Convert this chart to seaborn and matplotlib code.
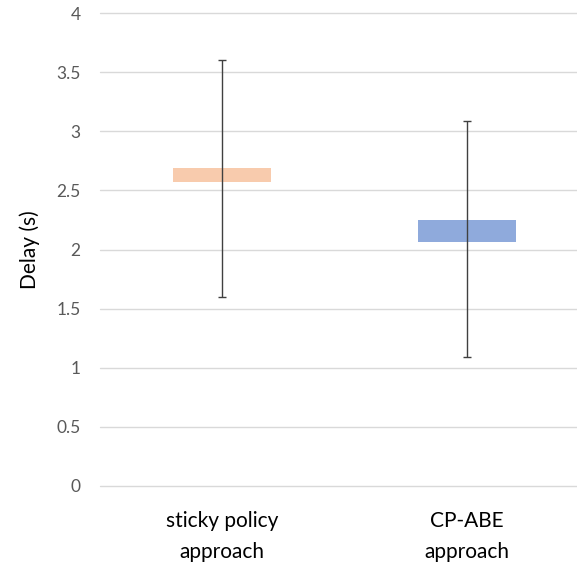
import numpy as np
import pandas as pd
import matplotlib.pyplot as plt
import seaborn as sns

# values
categories = ["sticky policy\napproach", "CP-ABE\napproach"]
box_low = [2.57, 2.06]
box_high = [2.69, 2.25]
whisker_low = [1.60, 1.09]
whisker_high = [3.60, 3.09]
colors = ["#F8CBAD", "#8FAADC"]

df = pd.DataFrame({"cat": categories, "low": box_low, "high": box_high,
                   "wlo": whisker_low, "whi": whisker_high})
df["height"] = df["high"] - df["low"]

sns.set_style("white")
plt.rcParams["font.family"] = ["Lato", "DejaVu Sans"]

fig = plt.figure(figsize=(5.77, 5.65), dpi=100)
ax = fig.add_axes([100 / 577, 1 - 486 / 565, 477 / 577, (486 - 13) / 565])

# floating boxes
for i, row in df.iterrows():
    sns.barplot(data=df[df["cat"] == row["cat"]], x="cat", y="height", order=categories,
                bottom=row["low"], color=colors[i], saturation=1, width=0.4, ax=ax,
                linewidth=0, zorder=2)

# min / max whiskers
mid = (df["wlo"] + df["whi"]) / 2
err = (df["whi"] - df["wlo"]) / 2
ax.errorbar(np.arange(len(categories)), mid, yerr=err, fmt="none", ecolor="#404040",
            elinewidth=1, capsize=3, capthick=1, zorder=3)

ax.set_ylim(0, 4)
ax.set_xlim(-0.5, 1.45)
ax.set_yticks(np.arange(0, 4.01, 0.5))
ax.set_yticklabels(["0", "0.5", "1", "1.5", "2", "2.5", "3", "3.5", "4"])
ax.yaxis.grid(True, color="#D9D9D9", linewidth=1, zorder=0)
for gl in ax.get_ygridlines():
    gl.set_clip_on(False)
ax.set_axisbelow(True)
for s in ax.spines.values():
    s.set_visible(False)
ax.tick_params(axis="y", length=0, pad=14, labelsize=12.5, labelcolor="#595959")
ax.tick_params(axis="x", length=0, pad=18, labelsize=15, labelcolor="#000000")
for lab in ax.get_xticklabels():
    lab.set_linespacing(1.7)
ax.set_xlabel("")
ax.set_ylabel("Delay (s)", fontsize=15, color="#000000", labelpad=12)

fig.savefig("out.png", dpi=100)
